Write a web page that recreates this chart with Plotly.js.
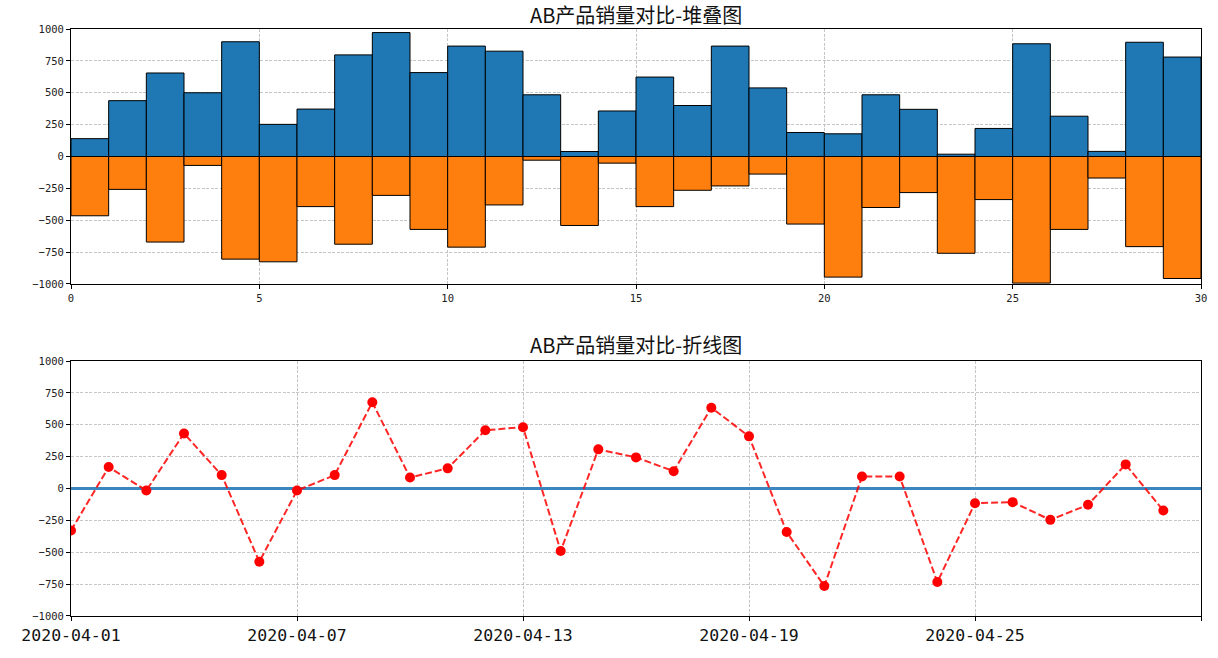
<!DOCTYPE html>
<html>
<head>
<meta charset="utf-8">
<script src="https://cdn.plot.ly/plotly-3.0.1.min.js"></script>
<style>html,body{margin:0;padding:0;background:#fff;}#chart{width:1218px;height:658px;}</style>
</head>
<body>
<div id="chart"></div>
<script>
// Data
const dates = ["2020-04-01","2020-04-02","2020-04-03","2020-04-04","2020-04-05","2020-04-06",
  "2020-04-07","2020-04-08","2020-04-09","2020-04-10","2020-04-11","2020-04-12",
  "2020-04-13","2020-04-14","2020-04-15","2020-04-16","2020-04-17","2020-04-18",
  "2020-04-19","2020-04-20","2020-04-21","2020-04-22","2020-04-23","2020-04-24",
  "2020-04-25","2020-04-26","2020-04-27","2020-04-28","2020-04-29","2020-04-30"];
const salesA = [140, 438, 655, 500, 900, 252, 372, 797, 972, 658, 866, 826, 484, 39, 357,
  623, 400, 866, 538, 188, 178, 484, 370, 18, 220, 884, 316, 40, 896, 780];
const salesB = [-465, -258, -671, -70, -805, -826, -393, -688, -305, -572, -711, -380, -29, -541, -52,
  -393, -265, -231, -138, -530, -946, -400, -283, -759, -338, -993, -572, -169, -707, -957];
const diffAB = [-330, 168, -16, 432, 105, -574, -16, 105, 676, 86, 158, 457, 481, -490, 307,
  244, 136, 634, 409, -341, -765, 94, 94, -734, -115, -107, -246, -128, 189, -173];
const yTicks = [-1000, -750, -500, -250, 0, 250, 500, 750, 1000];
const barTicks = [0, 5, 10, 15, 20, 25, 30];
const title1 = "AB产品销量对比-堆叠图";
const title2 = "AB产品销量对比-折线图";

const pos = dates.map((d, i) => i);
const tickFont = {family: "DejaVu Sans Mono", size: 10.5, color: "#222"};
const gridCommon = {showgrid: true, gridcolor: "#b8b8b8", griddash: "3px,1.5px", gridwidth: 0.8,
  showline: true, linecolor: "#000", linewidth: 1, mirror: true,
  ticks: "outside", ticklen: 4, tickcolor: "#000", zeroline: false};

const traces = [
  {type: "bar", x: pos, y: salesA, width: 1, offset: 0, xaxis: "x", yaxis: "y",
   marker: {color: "#1f77b4", line: {color: "#000", width: 1}}, name: "A"},
  {type: "bar", x: pos, y: salesB, width: 1, offset: 0, xaxis: "x", yaxis: "y",
   marker: {color: "#ff7f0e", line: {color: "#000", width: 1}}, name: "B"},
  {type: "scatter", mode: "lines+markers", x: dates, y: diffAB, xaxis: "x2", yaxis: "y2",
   line: {color: "rgba(255,0,0,0.85)", dash: "7px,3px", width: 2},
   marker: {color: "#ff0000", size: 10}, name: "A-B"}
];

const layout = {
  width: 1218, height: 658, paper_bgcolor: "#fff", plot_bgcolor: "#fff",
  showlegend: false, barmode: "relative", bargap: 0,
  margin: {l: 71, r: 17, t: 29, b: 42},
  xaxis: Object.assign({}, gridCommon, {domain: [0, 1], anchor: "y", range: [0, 30],
    tickmode: "array", tickvals: barTicks, tickfont: tickFont, layer: "above traces"}),
  yaxis: Object.assign({}, gridCommon, {domain: [0.5656, 1], anchor: "x", range: [-1000, 1000],
    tickmode: "array", tickvals: yTicks, tickfont: tickFont, layer: "above traces"}),
  xaxis2: Object.assign({}, gridCommon, {domain: [0, 1], anchor: "y2", type: "date",
    range: ["2020-04-01", "2020-05-01"], tick0: "2020-04-01", dtick: 6 * 86400000,
    tickformat: "%Y-%m-%d", tickfont: {family: "DejaVu Sans Mono", size: 16.5, color: "#111"}}),
  yaxis2: Object.assign({}, gridCommon, {domain: [0, 0.4344], anchor: "x2", range: [-1000, 1000],
    tickmode: "array", tickvals: yTicks, tickfont: tickFont,
    zeroline: true, zerolinecolor: "#3a86bf", zerolinewidth: 2.5}),
  annotations: [
    {text: title1, xref: "paper", yref: "paper", x: 0.5, y: 1.0239, xanchor: "center", yanchor: "middle",
     showarrow: false, font: {family: "Noto Sans CJK SC", size: 20, color: "#111"}},
    {text: title2, xref: "paper", yref: "paper", x: 0.5, y: 0.4617, xanchor: "center", yanchor: "middle",
     showarrow: false, font: {family: "Noto Sans CJK SC", size: 20, color: "#111"}}
  ]
};

Plotly.newPlot("chart", traces, layout, {displayModeBar: false, staticPlot: true});
</script>
</body>
</html>
